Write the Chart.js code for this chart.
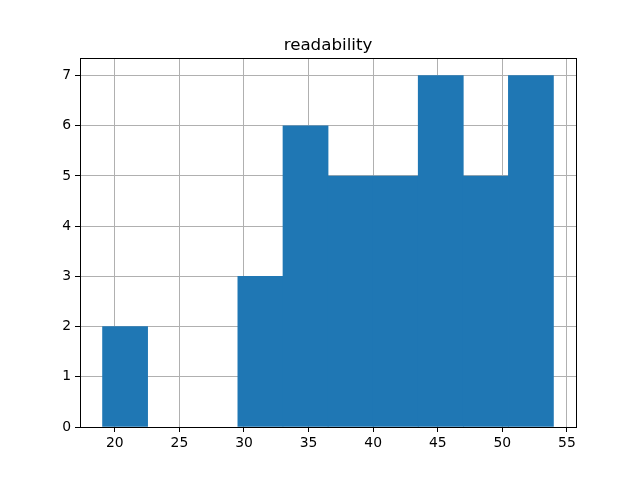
<!DOCTYPE html>
<html>
<head>
<meta charset="utf-8">
<script src="https://cdn.jsdelivr.net/npm/chart.js@4/dist/chart.umd.min.js"></script>
<style>
html,body{margin:0;padding:0;background:#fff;}
canvas{display:block;}
</style>
</head>
<body>
<canvas id="c" width="640" height="480"></canvas>
<script>
// Histogram of "readability"
const chartTitle = "readability";
const binEdges = [19.05, 22.54, 26.03, 29.52, 33.02, 36.51, 40.00, 43.49, 46.98, 50.47, 53.96];
const binCounts = [2, 0, 0, 3, 6, 5, 5, 7, 5, 7];
const xTicks = [20, 25, 30, 35, 40, 45, 50, 55];
const yTicks = [0, 1, 2, 3, 4, 5, 6, 7];

const span = binEdges[binEdges.length - 1] - binEdges[0];
const xMin = binEdges[0] - 0.05 * span;
const xMax = binEdges[binEdges.length - 1] + 0.05 * span;
const yMax = Math.max(...binCounts) * 1.05;

const barData = binCounts.map((c, i) => ({ x: (binEdges[i] + binEdges[i + 1]) / 2, y: c }));

const tickFont = { family: "'DejaVu Sans'", size: 13.9 };

const frame = {
  id: 'frame',
  afterDraw(chart) {
    const { ctx, chartArea: a } = chart;
    ctx.save();
    ctx.strokeStyle = '#000';
    ctx.lineWidth = 1;
    ctx.strokeRect(Math.round(a.left) + 0.5, Math.round(a.top) + 0.5, Math.round(a.right - a.left), Math.round(a.bottom - a.top));
    ctx.fillStyle = '#000';
    ctx.font = "16.7px 'DejaVu Sans'";
    ctx.textAlign = 'center';
    ctx.textBaseline = 'alphabetic';
    ctx.fillText(chartTitle, (a.left + a.right) / 2, a.top - 8.5);
    ctx.restore();
  }
};

new Chart(document.getElementById('c'), {
  type: 'bar',
  data: {
    datasets: [{
      data: barData,
      backgroundColor: ctx => (ctx.raw && ctx.raw.y > 0) ? '#1f77b4' : 'rgba(0,0,0,0)',
      borderWidth: 0,
      barPercentage: 1,
      categoryPercentage: 1
    }]
  },
  options: {
    responsive: false,
    animation: false,
    layout: { padding: { left: 0, right: 64, top: 58, bottom: 0 } },
    plugins: {
      legend: { display: false },
      tooltip: { enabled: false },
      title: { display: false }
    },
    scales: {
      x: {
        type: 'linear',
        min: xMin,
        max: xMax,
        offset: false,
        z: 1,
        afterBuildTicks: s => { s.ticks = xTicks.map(v => ({ value: v })); },
        afterFit: s => { s.height = 53; },
        ticks: { color: '#000', font: tickFont, padding: 3, maxRotation: 0, autoSkip: false, callback: v => String(v) },
        grid: { offset: false, color: '#b0b0b0', lineWidth: 1, tickColor: '#000', tickLength: 5, drawTicks: true },
        border: { color: '#000', width: 1 }
      },
      y: {
        type: 'linear',
        min: 0,
        max: yMax,
        z: 1,
        afterBuildTicks: s => { s.ticks = yTicks.map(v => ({ value: v })); },
        afterFit: s => { s.width = 80; },
        ticks: { color: '#000', font: tickFont, padding: 4, callback: v => String(v) },
        grid: { color: '#b0b0b0', lineWidth: 1, tickColor: '#000', tickLength: 5, drawTicks: true },
        border: { color: '#000', width: 1 }
      }
    }
  },
  plugins: [frame]
});
</script>
</body>
</html>
